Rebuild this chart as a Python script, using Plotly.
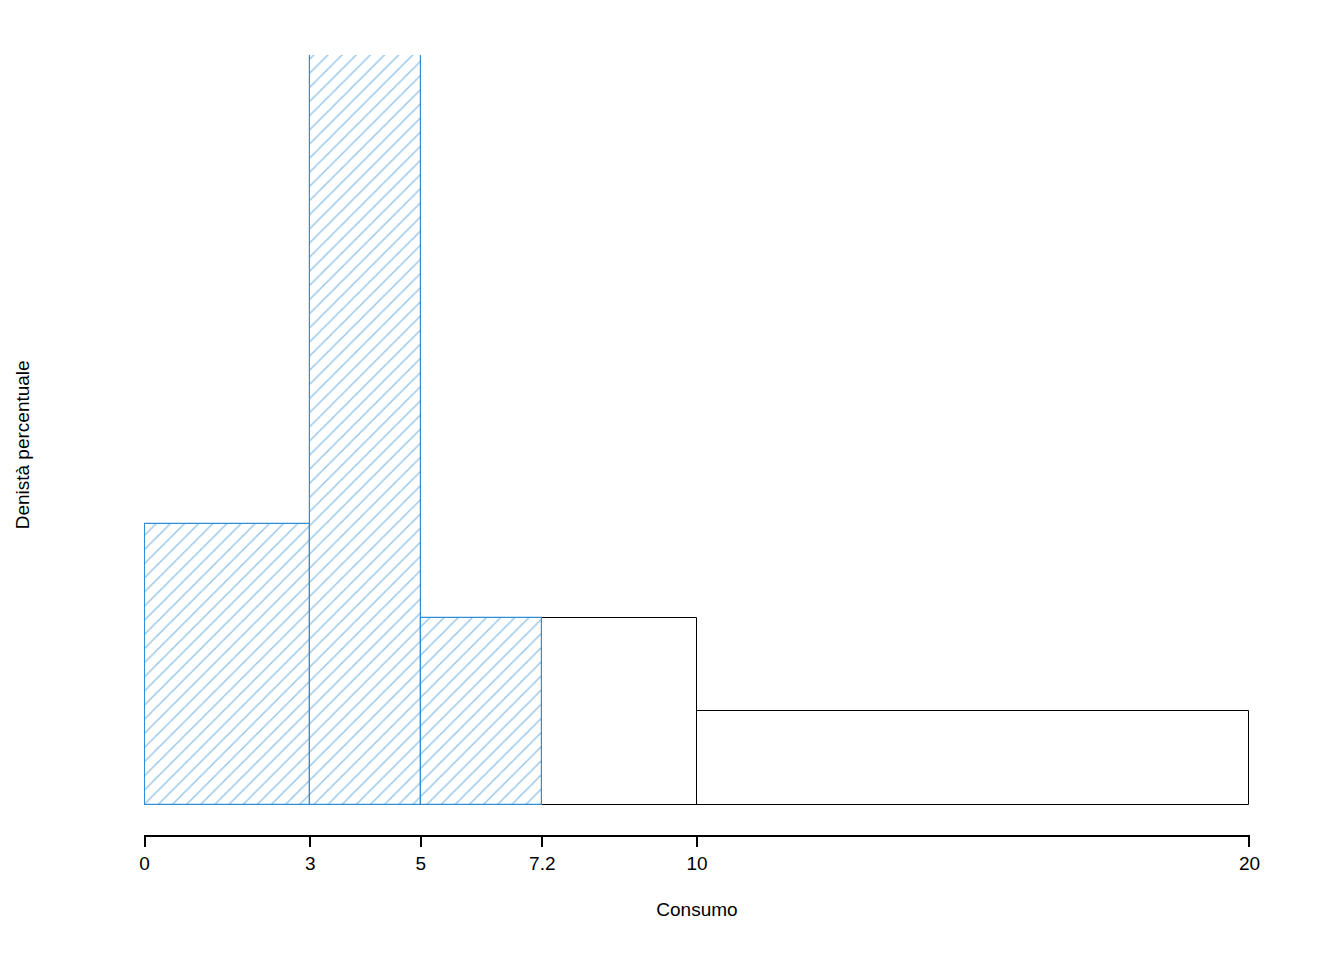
import plotly.graph_objects as go

# histogram bins (Consumo) and densities (relative)
bin_left = [0, 3, 5, 10]
bin_right = [3, 5, 10, 20]
density = [3, 8, 2, 1]
# hatched portion (up to 7.2)
hat_left = [0, 3, 5]
hat_right = [3, 5, 7.2]
hat_density = [3, 8, 2]
tick_vals = [0, 3, 5, 7.2, 10, 20]
tick_text = ["0", "3", "5", "7.2", "10", "20"]

fig = go.Figure()
fig.add_trace(go.Bar(
    x=[(a + b) / 2 for a, b in zip(bin_left, bin_right)],
    y=density, width=[b - a for a, b in zip(bin_left, bin_right)],
    marker=dict(color="rgba(0,0,0,0)", line=dict(color="black", width=1)),
    showlegend=False, hoverinfo="skip"))
fig.add_trace(go.Bar(
    x=[(a + b) / 2 for a, b in zip(hat_left, hat_right)],
    y=hat_density, width=[b - a for a, b in zip(hat_left, hat_right)],
    marker=dict(color="white", line=dict(color="#2E8FD8", width=1.2),
                pattern=dict(shape="/", fgcolor="#2E8FD8", bgcolor="white",
                             size=10, solidity=0.15, fillmode="overlay")),
    showlegend=False, hoverinfo="skip"))

fig.update_layout(
    width=1344, height=960, plot_bgcolor="white", paper_bgcolor="white",
    barmode="overlay", bargap=0,
    margin=dict(l=136, r=102, t=47, b=133),
    font=dict(family="Liberation Sans, Arial", size=19, color="black"),
    xaxis=dict(range=[-0.01, 20.01], tickvals=tick_vals, ticktext=tick_text,
               tickfont=dict(size=19),
               showline=True, linecolor="black", linewidth=1.5,
               ticks="outside", ticklen=10, tickwidth=1.5, tickcolor="black",
               showgrid=False, zeroline=False,
               title=dict(text="Consumo", standoff=30, font=dict(size=19))),
    yaxis=dict(range=[-0.32, 8], visible=False),
    annotations=[dict(text="Denistà percentuale", xref="paper", yref="paper",
                      x=-0.11, y=0.5, xanchor="center", showarrow=False,
                      textangle=-90, font=dict(size=19))],
)
fig.write_html("out.html")
